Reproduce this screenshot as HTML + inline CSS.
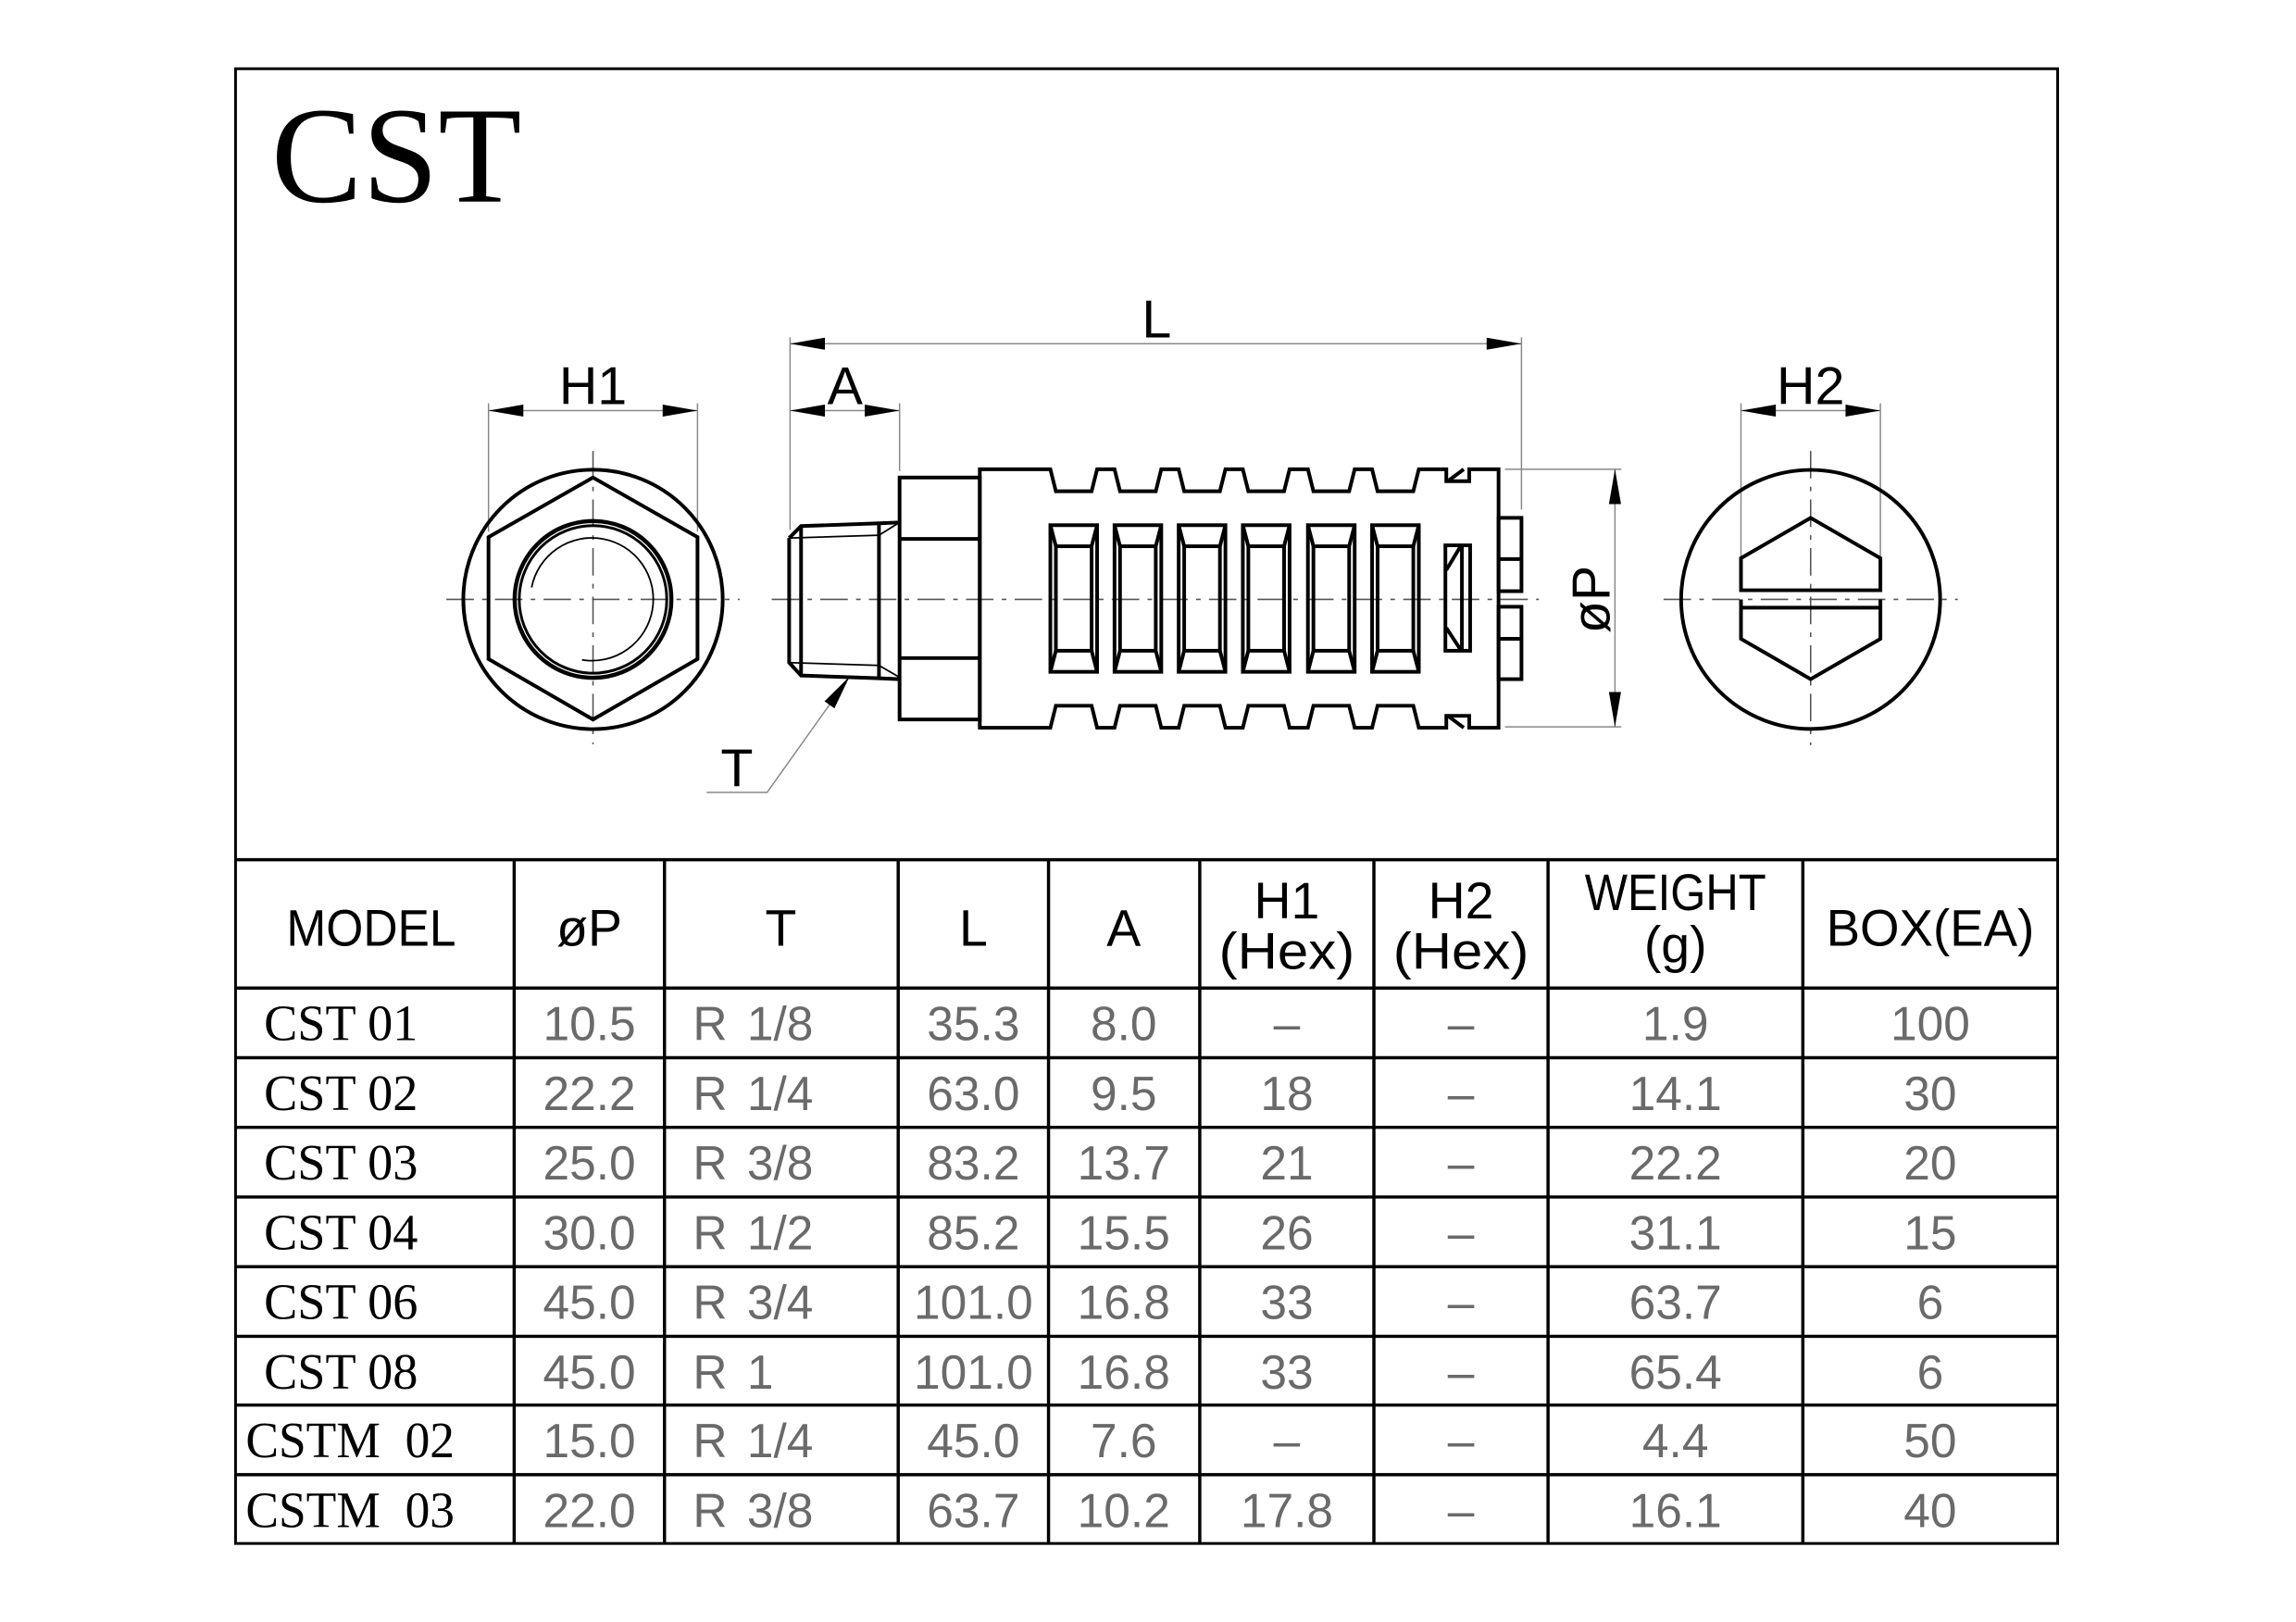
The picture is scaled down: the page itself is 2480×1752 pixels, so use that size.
<!DOCTYPE html>
<html><head><meta charset="utf-8"><style>html,body{margin:0;padding:0;background:#fff}svg{display:block}</style></head>
<body>
<svg xmlns="http://www.w3.org/2000/svg" width="2480" height="1752" viewBox="0 0 2480 1752">
<rect width="2480" height="1752" fill="#fff"/>
<g transform="scale(0.99)">
<rect x="257" y="75" width="1988" height="1609" fill="none" stroke="#000" stroke-width="3"/>
<text x="296" y="220" font-family="Liberation Serif, serif" font-size="150" textLength="273" lengthAdjust="spacingAndGlyphs">CST</text>

<g stroke="#555" stroke-width="1.6" stroke-dasharray="30 9 5 9" fill="none">
<line x1="487" y1="654" x2="807" y2="654"/>
<line x1="647" y1="492" x2="647" y2="812"/>
<line x1="842" y1="654" x2="1679" y2="654"/>
<line x1="1815" y1="654" x2="2136" y2="654"/>
<line x1="1975.5" y1="492" x2="1975.5" y2="813"/>
</g>

<g stroke="#888" stroke-width="1.5" fill="none">
<line x1="533" y1="440" x2="533" y2="580"/>
<line x1="761" y1="440" x2="761" y2="580"/>
<line x1="533" y1="448" x2="761" y2="448"/>
<line x1="862" y1="368" x2="862" y2="578"/>
<line x1="981.5" y1="440" x2="981.5" y2="514"/>
<line x1="862" y1="448" x2="981.5" y2="448"/>
<line x1="862" y1="375" x2="1660" y2="375"/>
<line x1="1660" y1="368" x2="1660" y2="556"/>
<line x1="1642" y1="512" x2="1769" y2="512"/>
<line x1="1642" y1="793" x2="1769" y2="793"/>
<line x1="1762" y1="512" x2="1762" y2="793"/>
<line x1="1899.5" y1="440" x2="1899.5" y2="608"/>
<line x1="2051.6" y1="440" x2="2051.6" y2="608"/>
<line x1="1899.5" y1="448" x2="2051.6" y2="448"/>
<polyline points="927,738 837,864.5 771,864.5"/>
</g>
<g fill="#000">
<polygon points="533,448 571,441.4 571,454.6"/>
<polygon points="761,448 723,441.4 723,454.6"/>
<polygon points="862,448 900,441.4 900,454.6"/>
<polygon points="981.5,448 943.5,441.4 943.5,454.6"/>
<polygon points="862,375 900,368.4 900,381.6"/>
<polygon points="1660,375 1622,368.4 1622,381.6"/>
<polygon points="1762,512 1755.4,550 1768.6,550"/>
<polygon points="1762,793 1755.4,755 1768.6,755"/>
<polygon points="1899.5,448 1937.5,441.4 1937.5,454.6"/>
<polygon points="2051.6,448 2013.6,441.4 2013.6,454.6"/>
<polygon points="927,738 910.4,772.8 899.6,765.2"/>
</g>
<g font-family="Liberation Sans, sans-serif" font-size="58" text-anchor="middle" fill="#000">
<text x="647" y="441">H1</text>
<text x="922" y="441">A</text>
<text x="1262" y="368">L</text>
<text x="1975.5" y="441">H2</text>
<text x="804" y="858">T</text>
<text x="0" y="0" transform="translate(1756,654) rotate(-90)">øP</text>
</g>

<g fill="none" stroke="#000" stroke-width="4">
<circle cx="647" cy="654" r="141.5"/>
<polygon points="647,521 761,586 761,719 647,785 533,719 533,586"/>
<circle cx="647" cy="654" r="85.5" stroke-width="4.5"/>
<circle cx="647" cy="654" r="80.5" stroke-width="3"/>
</g>
<path d="M580,641 A67,67 0 1 1 635,720" fill="none" stroke="#000" stroke-width="1.8"/>

<g fill="none" stroke="#000" stroke-width="4">
<path d="M861,587 L874,574 L959,571 L981.5,570 M861,587 V723 L874,737 L959,740 L981.5,741"/>
<line x1="874" y1="574" x2="874" y2="737"/>
<line x1="959" y1="571" x2="959" y2="740"/>
<rect x="981.5" y="521" width="87.5" height="264"/>
<line x1="981.5" y1="588" x2="1069" y2="588"/>
<line x1="981.5" y1="718" x2="1069" y2="718"/>
</g>
<g fill="none" stroke="#000" stroke-width="1.8">
<polyline points="862,587 959,584 981.5,570"/>
<polyline points="862,723 959,726 981.5,739"/>
</g>

<g fill="none" stroke="#000" stroke-width="4" stroke-linejoin="miter">
<path d="M1069,512 H1146 L1152,536 H1191 L1197,512 H1216 L1222,536 H1261 L1267,512 H1286 L1292,536 H1331 L1337,512 H1356 L1362,536 H1401 L1407,512 H1427 L1433,536 H1472 L1478,512 H1497 L1503,536 H1542 L1548,512 H1578 V525 H1603 V512 H1635 V794 H1603 V781 H1578 V794 H1548 L1542,770 H1503 L1497,794 H1478 L1472,770 H1433 L1427,794 H1407 L1401,770 H1362 L1356,794 H1337 L1331,770 H1292 L1286,794 H1267 L1261,770 H1222 L1216,794 H1197 L1191,770 H1152 L1146,794 H1069 Z"/>
<path d="M1581,524 L1597,512 M1581,782 L1597,794"/>
<g id="w">
<rect x="1146" y="573" width="51" height="160"/>
<rect x="1152" y="596" width="39" height="114"/>
<path d="M1146,573 L1152,596 M1197,573 L1191,596 M1146,733 L1152,710 M1197,733 L1191,710"/>
</g>
<use href="#w" x="70"/>
<use href="#w" x="140"/>
<use href="#w" x="210"/>
<use href="#w" x="281"/>
<use href="#w" x="351"/>
<rect x="1577" y="595" width="27" height="115"/>
<line x1="1595" y1="595" x2="1595" y2="710"/>
<path d="M1578,622 L1593,597 M1578,685 L1593,708"/>
<rect x="1635" y="565" width="25" height="80"/>
<line x1="1635" y1="610" x2="1660" y2="610"/>
<rect x="1635" y="662" width="25" height="79"/>
<line x1="1635" y1="697" x2="1660" y2="697"/>
</g>

<g fill="none" stroke="#000" stroke-width="4">
<circle cx="1975.5" cy="654" r="141.3"/>
<path d="M1899.5,644 V609 L1975.5,565 L2051.6,609 V644 Z"/>
<path d="M1899.5,654 V697 L1975.5,741 L2051.6,697 V654 M1899.5,663 H2051.6"/>
</g>

<g stroke="#000" stroke-width="3.5">
<line x1="257" y1="938" x2="2245" y2="938"/>
<line x1="257" y1="1078" x2="2245" y2="1078"/>
<line x1="257" y1="1154" x2="2245" y2="1154"/>
<line x1="257" y1="1230" x2="2245" y2="1230"/>
<line x1="257" y1="1306" x2="2245" y2="1306"/>
<line x1="257" y1="1382" x2="2245" y2="1382"/>
<line x1="257" y1="1458" x2="2245" y2="1458"/>
<line x1="257" y1="1533" x2="2245" y2="1533"/>
<line x1="257" y1="1609" x2="2245" y2="1609"/>
<line x1="561" y1="938" x2="561" y2="1684"/>
<line x1="725" y1="938" x2="725" y2="1684"/>
<line x1="980" y1="938" x2="980" y2="1684"/>
<line x1="1144" y1="938" x2="1144" y2="1684"/>
<line x1="1309" y1="938" x2="1309" y2="1684"/>
<line x1="1499" y1="938" x2="1499" y2="1684"/>
<line x1="1689" y1="938" x2="1689" y2="1684"/>
<line x1="1967" y1="938" x2="1967" y2="1684"/>
</g>
<g font-family="Liberation Sans, sans-serif" font-size="56" fill="#000" text-anchor="middle">
<text x="405" y="1032" textLength="185" lengthAdjust="spacingAndGlyphs">MODEL</text>
<text x="643" y="1032">øP</text>
<text x="852" y="1032">T</text>
<text x="1062" y="1032">L</text>
<text x="1226" y="1032">A</text>
<text x="1404" y="1002">H1</text>
<text x="1404" y="1057" textLength="148" lengthAdjust="spacingAndGlyphs">(Hex)</text>
<text x="1594" y="1002">H2</text>
<text x="1594" y="1057" textLength="148" lengthAdjust="spacingAndGlyphs">(Hex)</text>
<text x="1828" y="993" textLength="198" lengthAdjust="spacingAndGlyphs">WEIGHT</text>
<text x="1828" y="1050">(g)</text>
<text x="2106" y="1032" textLength="227" lengthAdjust="spacingAndGlyphs">BOX(EA)</text>
</g>
<g font-family="Liberation Serif, serif" font-size="56" fill="#000">
<text x="288" y="1135" textLength="168" lengthAdjust="spacingAndGlyphs">CST 01</text>
<text x="288" y="1211" textLength="168" lengthAdjust="spacingAndGlyphs">CST 02</text>
<text x="288" y="1287" textLength="168" lengthAdjust="spacingAndGlyphs">CST 03</text>
<text x="288" y="1363" textLength="168" lengthAdjust="spacingAndGlyphs">CST 04</text>
<text x="288" y="1439" textLength="168" lengthAdjust="spacingAndGlyphs">CST 06</text>
<text x="288" y="1515" textLength="168" lengthAdjust="spacingAndGlyphs">CST 08</text>
<text x="268" y="1590" textLength="228" lengthAdjust="spacingAndGlyphs">CSTM&#160;&#160;02</text>
<text x="268" y="1666" textLength="228" lengthAdjust="spacingAndGlyphs">CSTM&#160;&#160;03</text>
</g>
<g font-family="Liberation Sans, sans-serif" font-size="52" fill="#6a6a6a" text-anchor="middle">
<text x="643" y="1135">10.5</text><text x="1062" y="1135">35.3</text><text x="1226" y="1135">8.0</text><text x="1404" y="1135">–</text><text x="1594" y="1135">–</text><text x="1828" y="1135">1.9</text><text x="2106" y="1135">100</text>
<text x="643" y="1211">22.2</text><text x="1062" y="1211">63.0</text><text x="1226" y="1211">9.5</text><text x="1404" y="1211">18</text><text x="1594" y="1211">–</text><text x="1828" y="1211">14.1</text><text x="2106" y="1211">30</text>
<text x="643" y="1287">25.0</text><text x="1062" y="1287">83.2</text><text x="1226" y="1287">13.7</text><text x="1404" y="1287">21</text><text x="1594" y="1287">–</text><text x="1828" y="1287">22.2</text><text x="2106" y="1287">20</text>
<text x="643" y="1363">30.0</text><text x="1062" y="1363">85.2</text><text x="1226" y="1363">15.5</text><text x="1404" y="1363">26</text><text x="1594" y="1363">–</text><text x="1828" y="1363">31.1</text><text x="2106" y="1363">15</text>
<text x="643" y="1439">45.0</text><text x="1062" y="1439">101.0</text><text x="1226" y="1439">16.8</text><text x="1404" y="1439">33</text><text x="1594" y="1439">–</text><text x="1828" y="1439">63.7</text><text x="2106" y="1439">6</text>
<text x="643" y="1515">45.0</text><text x="1062" y="1515">101.0</text><text x="1226" y="1515">16.8</text><text x="1404" y="1515">33</text><text x="1594" y="1515">–</text><text x="1828" y="1515">65.4</text><text x="2106" y="1515">6</text>
<text x="643" y="1590">15.0</text><text x="1062" y="1590">45.0</text><text x="1226" y="1590">7.6</text><text x="1404" y="1590">–</text><text x="1594" y="1590">–</text><text x="1828" y="1590">4.4</text><text x="2106" y="1590">50</text>
<text x="643" y="1666">22.0</text><text x="1062" y="1666">63.7</text><text x="1226" y="1666">10.2</text><text x="1404" y="1666">17.8</text><text x="1594" y="1666">–</text><text x="1828" y="1666">16.1</text><text x="2106" y="1666">40</text>
</g>
<g font-family="Liberation Sans, sans-serif" font-size="52" fill="#6a6a6a">
<text x="756" y="1135">R</text><text x="815" y="1135">1/8</text>
<text x="756" y="1211">R</text><text x="815" y="1211">1/4</text>
<text x="756" y="1287">R</text><text x="815" y="1287">3/8</text>
<text x="756" y="1363">R</text><text x="815" y="1363">1/2</text>
<text x="756" y="1439">R</text><text x="815" y="1439">3/4</text>
<text x="756" y="1515">R</text><text x="815" y="1515">1</text>
<text x="756" y="1590">R</text><text x="815" y="1590">1/4</text>
<text x="756" y="1666">R</text><text x="815" y="1666">3/8</text>
</g>
</g>
</svg>
</body></html>
